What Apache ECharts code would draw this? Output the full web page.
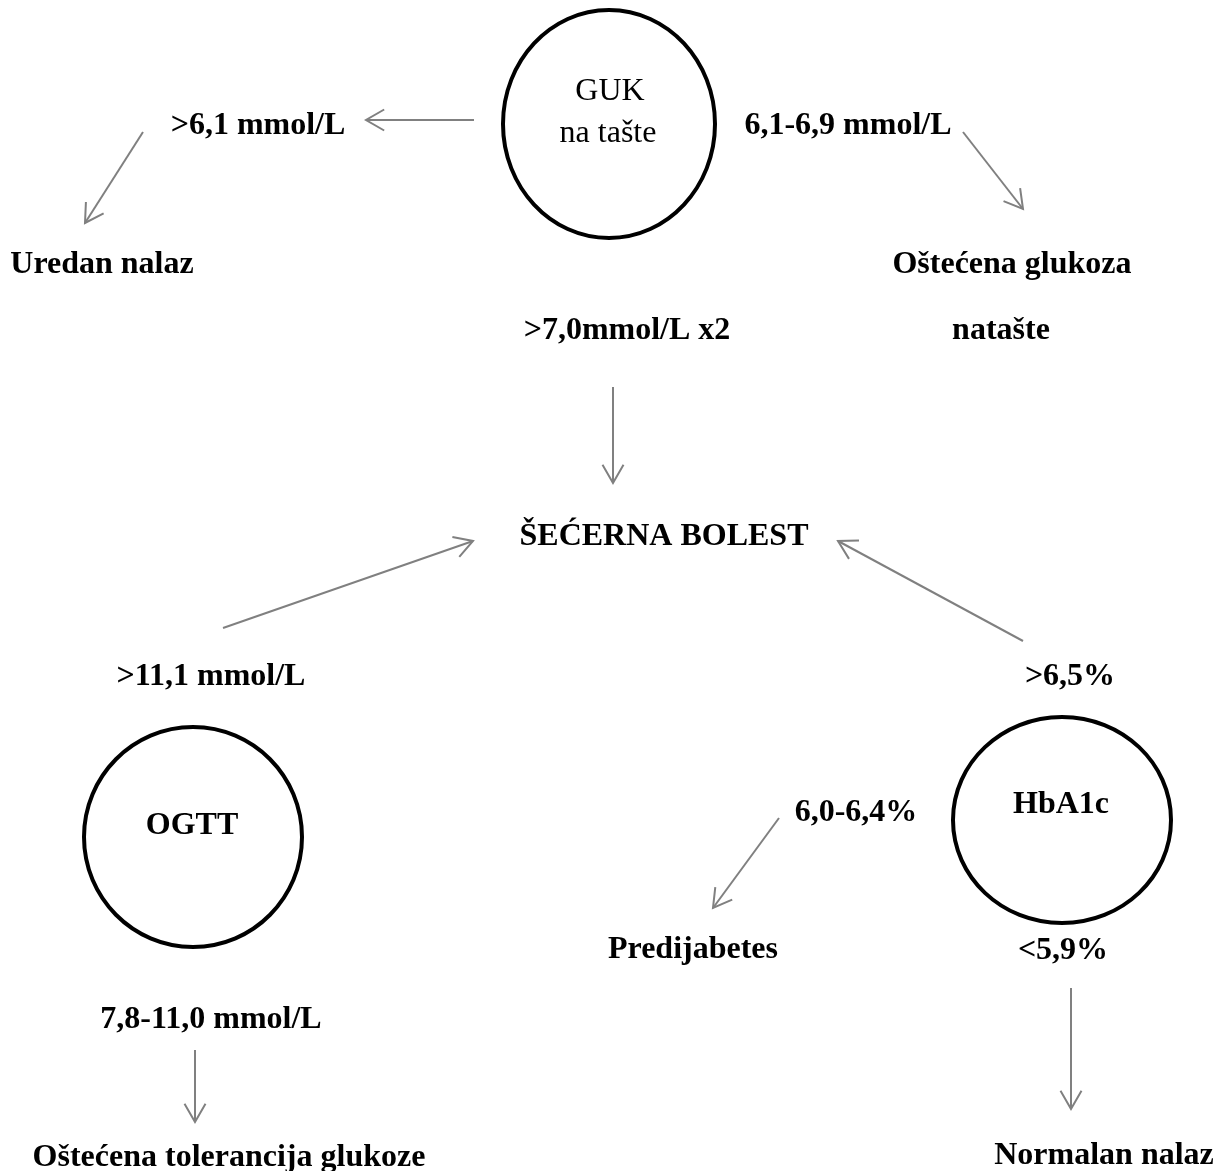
<!DOCTYPE html>
<html>
<head>
<meta charset="utf-8">
<script src="https://cdn.jsdelivr.net/npm/echarts@6/dist/echarts.min.js"></script>
<style>
html,body{margin:0;padding:0;background:#fff;}
#chart{width:1222px;height:1171px;}
</style>
</head>
<body>
<div id="chart"></div>
<script>
// Nodes drawn as circles (centre x, centre y, radius x, radius y) in page units
var circleX = [609, 193, 1062];
var circleY = [124, 837, 820];
var circleRX = [106, 109, 109];
var circleRY = [114, 110, 103];

// Text labels
var labelText = ["GUK", "na tašte", ">6,1 mmol/L", "6,1-6,9 mmol/L", "Uredan nalaz", "Oštećena glukoza",
  ">7,0mmol/L x2", "natašte", "ŠEĆERNA BOLEST", ">11,1 mmol/L", ">6,5%", "OGTT", "HbA1c",
  "6,0-6,4%", "Predijabetes", "<5,9%", "7,8-11,0 mmol/L", "Oštećena tolerancija glukoze", "Normalan nalaz"];
var labelX = [610, 608, 258, 848, 102, 1012, 627, 1001, 664, 211, 1070, 192, 1061, 856, 693, 1063, 211, 229, 1104];
var labelY = [92, 134, 126, 126, 265, 265, 331, 331, 537, 677, 677, 826, 805, 813, 950, 951, 1020, 1158, 1156];
var labelBold = [false, false, true, true, true, true, true, true, true, true, true, true, true, true, true, true, true, true, true];

// Arrows: start point and end (tip) point
var arrowX1 = [474, 143, 963, 613, 223, 1023, 779, 195, 1071];
var arrowY1 = [120, 132, 132, 387, 628, 641, 818, 1050, 988];
var arrowX2 = [366, 85, 1023, 613, 473, 838, 713, 195, 1071];
var arrowY2 = [120, 223, 209, 483, 541, 541, 908, 1122, 1109];

var circleData = circleX.map(function (x, i) { return [x, circleY[i], circleRX[i], circleRY[i]]; });
var arrowData = arrowX1.map(function (x, i) { return [x, arrowY1[i], arrowX2[i], arrowY2[i]]; });
var labelData = labelText.map(function (t, i) { return [labelX[i], labelY[i], i]; });

var chart = echarts.init(document.getElementById('chart'), null, { renderer: 'canvas' });
chart.setOption({
  backgroundColor: '#ffffff',
  animation: false,
  grid: { left: 0, right: 0, top: 0, bottom: 0 },
  xAxis: { type: 'value', min: 0, max: 1222, show: false },
  yAxis: { type: 'value', min: 0, max: 1171, inverse: true, show: false },
  series: [
    {
      type: 'custom',
      data: circleData,
      renderItem: function (params, api) {
        var c = api.coord([api.value(0), api.value(1)]);
        var s = api.size([api.value(2), api.value(3)]);
        return {
          type: 'ellipse',
          shape: { cx: c[0], cy: c[1], rx: s[0], ry: s[1] },
          style: { fill: 'none', stroke: '#000000', lineWidth: 4 }
        };
      }
    },
    {
      type: 'custom',
      data: arrowData,
      renderItem: function (params, api) {
        var p1 = api.coord([api.value(0), api.value(1)]);
        var p2 = api.coord([api.value(2), api.value(3)]);
        var ang = Math.atan2(p2[1] - p1[1], p2[0] - p1[0]);
        var L = 21, a = Math.PI / 6;
        var w1 = [p2[0] - L * Math.cos(ang - a), p2[1] - L * Math.sin(ang - a)];
        var w2 = [p2[0] - L * Math.cos(ang + a), p2[1] - L * Math.sin(ang + a)];
        var st = { stroke: '#808080', lineWidth: 2, fill: 'none' };
        return {
          type: 'group',
          children: [
            { type: 'line', shape: { x1: p1[0], y1: p1[1], x2: p2[0], y2: p2[1] }, style: st },
            { type: 'polyline', shape: { points: [w1, p2, w2] }, style: st }
          ]
        };
      }
    },
    {
      type: 'custom',
      data: labelData,
      renderItem: function (params, api) {
        var p = api.coord([api.value(0), api.value(1)]);
        var idx = api.value(2);
        return {
          type: 'text',
          x: p[0],
          y: p[1],
          style: {
            text: labelText[idx],
            fill: '#000000',
            font: (labelBold[idx] ? 'bold ' : '') + '32px "Liberation Serif", "Times New Roman", serif',
            align: 'center',
            verticalAlign: 'middle'
          }
        };
      }
    }
  ]
});
</script>
</body>
</html>
